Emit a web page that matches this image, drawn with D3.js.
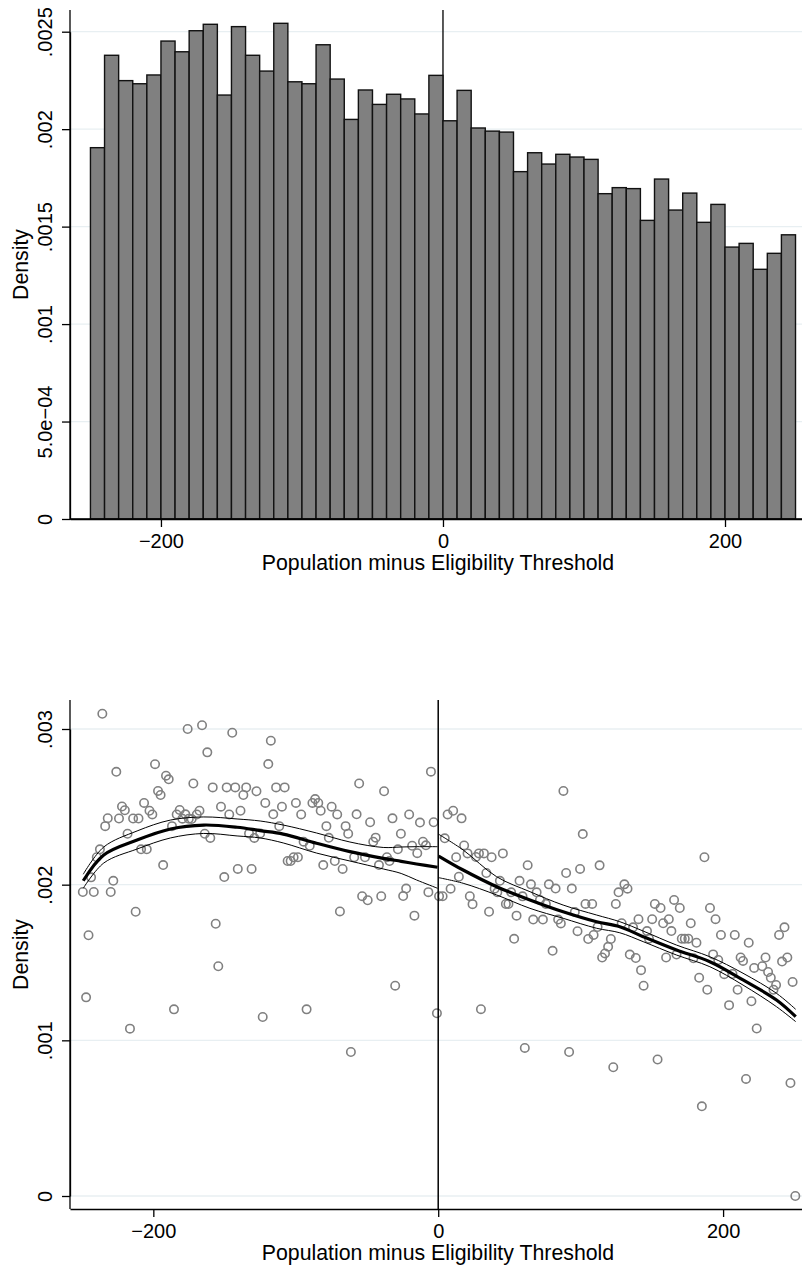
<!DOCTYPE html>
<html>
<head>
<meta charset="utf-8">
<script src="https://cdn.jsdelivr.net/npm/d3@7"></script>
<style>
  html, body { margin: 0; padding: 0; background: #fff; }
  svg { display: block; }
  text { font-family: "Liberation Sans", Arial, Helvetica, sans-serif; fill: #000; }
</style>
</head>
<body>
<svg id="chart" width="802" height="1271"></svg>
<script>
// ---------- Top panel: histogram ----------
const histBinStart = [-250,-240,-230,-220,-210,-200,-190,-180,-170,-160,
  -150,-140,-130,-120,-110,-100,-90,-80,-70,-60,
  -50,-40,-30,-20,-10,0,10,20,30,40,
  50,60,70,80,90,100,110,120,130,140,
  150,160,170,180,190,200,210,220,230,240];
const histBinWidth = 10;
const histDensity = [0.001905,0.002379,0.002249,0.002233,0.002278,0.002452,0.002397,0.002505,0.002538,0.002175,
  0.002526,0.002379,0.002298,0.002543,0.002243,0.002233,0.002433,0.002257,0.002050,0.002201,
  0.002127,0.002179,0.002155,0.002078,0.002276,0.002043,0.002199,0.002006,0.001990,0.001985,
  0.001782,0.001879,0.001821,0.001871,0.001857,0.001845,0.001669,0.001700,0.001695,0.001532,
  0.001744,0.001585,0.001672,0.001522,0.001614,0.001395,0.001414,0.001281,0.001363,0.001458];
const topYTicks = [0, 0.0005, 0.001, 0.0015, 0.002, 0.0025];
const topYLabels = ["0", "5.0e\u221204", ".001", ".0015", ".002", ".0025"];

// ---------- Bottom panel: binned density + fits ----------
const scatterX = [
  -249.5,-247.2,-245.5,-243.7,-241.8,-239.7,-237.5,-235.8,-233.8,-232.0,
  -229.9,-228.1,-226.0,-224.1,-222.0,-220.0,-218.1,-216.4,-214.2,-212.4,
  -210.4,-208.6,-206.5,-204.6,-202.7,-200.7,-198.8,-196.7,-194.9,-193.1,
  -191.1,-189.2,-186.9,-185.5,-183.6,-181.5,-179.6,-177.5,-175.9,-175.1,
  -173.1,-171.9,-169.5,-167.6,-165.8,-163.9,-162.1,-160.0,-158.3,-156.2,
  -154.4,-152.5,-150.2,-148.5,-146.7,-144.6,-142.5,-140.7,-138.8,-136.8,
  -134.8,-132.8,-131.0,-129.1,-127.6,-125.0,-123.2,-121.4,-119.3,-117.5,
  -115.8,-113.8,-111.6,-109.7,-107.8,-105.7,-103.6,-101.5,-99.9,-98.5,
  -96.2,-94.5,-92.4,-90.2,-88.3,-86.4,-84.2,-82.5,-80.7,-78.5,
  -76.8,-74.8,-72.6,-70.9,-69.0,-67.1,-65.0,-63.2,-61.3,-59.0,
  -57.3,-55.5,-53.4,-51.4,-49.5,-47.8,-45.6,-43.9,-41.6,-40.0,
  -38.0,-36.0,-34.2,-32.1,-30.2,-28.3,-26.2,-24.6,-22.5,-20.4,
  -18.3,-16.7,-14.7,-12.8,-10.7,-8.6,-6.9,-5.1,-3.2,-0.9,
  0.6,3.1,4.6,6.6,8.7,10.5,12.6,14.5,16.4,18.2,
  20.6,22.2,24.1,26.5,28.6,30.0,32.1,33.8,35.7,37.5,
  39.6,41.5,43.3,45.4,47.5,49.3,51.2,53.3,55.0,57.1,
  59.2,60.8,62.8,65.1,66.7,69.1,71.4,73.5,75.6,77.7,
  80.3,82.4,84.2,86.1,87.9,89.8,91.9,93.8,95.9,97.8,
  99.6,101.5,103.4,105.3,108.1,109.1,111.9,113.3,115.1,117.1,
  119.3,121.2,122.9,124.7,126.6,128.8,130.7,132.9,134.5,136.8,
  138.7,140.6,142.4,144.2,146.6,148.0,150.2,152.1,154.0,156.1,
  157.9,160.0,161.9,163.7,165.6,167.3,169.6,171.0,173.1,175.6,
  177.3,179.2,181.3,183.2,185.1,186.9,188.9,190.8,193.0,194.7,
  196.6,198.5,200.8,204.2,206.6,208.2,210.2,212.3,214.0,216.1,
  218.0,219.9,221.8,223.6,227.5,229.8,231.6,233.5,235.4,237.2,
  239.3,241.4,243.1,245.1,247.3,248.8,250.7];
const scatterY = [
  0.001953,0.001276,0.001675,0.002047,0.001953,0.002176,0.002227,0.003098,0.002376,0.002427,
  0.001953,0.002025,0.002725,0.002425,0.002502,0.002478,0.002327,0.001075,0.002425,0.001826,
  0.002425,0.002227,0.002525,0.002227,0.002475,0.002451,0.002774,0.002602,0.002576,0.002126,
  0.002700,0.002677,0.002376,0.001199,0.002451,0.002480,0.002424,0.002452,0.003000,0.002424,
  0.002422,0.002650,0.002451,0.002475,0.003024,0.002327,0.002850,0.002300,0.002625,0.001749,
  0.001476,0.002501,0.002049,0.002625,0.002451,0.002976,0.002625,0.002101,0.002475,0.002576,
  0.002625,0.002329,0.002101,0.002300,0.002600,0.002329,0.001150,0.002525,0.002775,0.002925,
  0.002452,0.002625,0.002376,0.002501,0.002625,0.002152,0.002152,0.002176,0.002525,0.002176,
  0.002451,0.002276,0.001199,0.002250,0.002525,0.002550,0.002525,0.002475,0.002126,0.002376,
  0.002301,0.002501,0.002152,0.002451,0.001828,0.002101,0.002376,0.002327,0.000925,0.002176,
  0.002452,0.002650,0.001926,0.002176,0.001900,0.002401,0.002276,0.002302,0.002126,0.001926,
  0.002600,0.002176,0.002152,0.002426,0.001351,0.002227,0.002327,0.001927,0.001975,0.002451,
  0.002250,0.001801,0.002202,0.002399,0.002276,0.002253,0.001952,0.002726,0.002401,0.001174,
  0.001926,0.001926,0.002298,0.002451,0.001974,0.002475,0.002176,0.002051,0.002426,0.002252,
  0.002201,0.001926,0.001875,0.002178,0.002201,0.001200,0.002201,0.002075,0.001826,0.002176,
  0.001974,0.001951,0.002025,0.002201,0.001876,0.001876,0.001951,0.001652,0.001801,0.002025,
  0.001925,0.000951,0.002125,0.002002,0.001776,0.001951,0.001902,0.001776,0.001876,0.002002,
  0.001575,0.001975,0.001776,0.001751,0.002602,0.002075,0.000925,0.001975,0.001824,0.001701,
  0.002101,0.002325,0.001876,0.001651,0.001876,0.001677,0.001728,0.002124,0.001532,0.001558,
  0.001601,0.001651,0.000827,0.001876,0.001951,0.001752,0.002002,0.001974,0.001551,0.001726,
  0.001529,0.001778,0.001451,0.001351,0.001702,0.001653,0.001778,0.001876,0.000877,0.001850,
  0.001752,0.001532,0.001778,0.001702,0.001902,0.001551,0.001850,0.001653,0.001653,0.001653,
  0.001752,0.001527,0.001627,0.001402,0.000576,0.002176,0.001325,0.001850,0.001552,0.001778,
  0.001516,0.001677,0.001425,0.001226,0.001426,0.001677,0.001325,0.001532,0.001510,0.000752,
  0.001627,0.001251,0.001465,0.001076,0.001476,0.001532,0.001439,0.001402,0.001325,0.001356,
  0.001677,0.001506,0.001726,0.001532,0.000726,0.001375,0.000000];

const fitLeftX  = [-249.2,-234.8,-211.4,-188.0,-164.6,-141.2,-125.0,-108.8,-85.4,-62.0,-38.6,-26.0,-15.2,-0.5];
const fitLeftY  = [0.002025,0.002191,0.002287,0.002358,0.002383,0.002369,0.002347,0.002325,0.002266,0.002212,0.002169,0.002150,0.002133,0.002112];
const fitLeftHi = [0.002067,0.002242,0.002345,0.002415,0.002435,0.002422,0.002409,0.002383,0.002332,0.002274,0.002239,0.002242,0.002244,0.002244];
const fitLeftLo = [0.001977,0.002139,0.002229,0.002300,0.002329,0.002313,0.002300,0.002268,0.002203,0.002152,0.002101,0.002072,0.002030,0.001977];

const fitRightX  = [0.3,17.5,41.0,64.4,87.7,111.2,127.5,143.9,167.3,190.7,214.0,237.5,251.0];
const fitRightY  = [0.002184,0.002094,0.001987,0.001902,0.001826,0.001762,0.001730,0.001666,0.001580,0.001505,0.001388,0.001259,0.001152];
const fitRightHi = [0.002324,0.002223,0.002051,0.001955,0.001869,0.001805,0.001762,0.001702,0.001612,0.001537,0.001431,0.001302,0.001199];
const fitRightLo = [0.002045,0.002009,0.001934,0.001848,0.001784,0.001720,0.001691,0.001634,0.001548,0.001473,0.001355,0.001216,0.001120];

const botYTicks = [0, 0.001, 0.002, 0.003];
const botYLabels = ["0", ".001", ".002", ".003"];
const xTicks = [-200, 0, 200];
const xTickLabels = ["\u2212200", "0", "200"];
const xTitle = "Population minus Eligibility Threshold";
const yTitle = "Density";

// ---------- drawing ----------
const svg = d3.select("#chart");
const FS = 20;
const TFS = 21.3;
const gridColor = "#e8eff2";
const axisW = 1.3;

function styleAxis(g) {
  g.selectAll("path.domain").attr("stroke", "#000").attr("stroke-width", axisW);
  g.selectAll(".tick line").attr("stroke", "#000").attr("stroke-width", axisW);
  g.selectAll("text").style("font-size", FS + "px").attr("fill", "#000")
    .style("font-family", '"Liberation Sans", Arial, Helvetica, sans-serif');
}

function drawFrame(cfg) {
  const { x, y, top, left, right, yTicks, yLabels, xAxisY } = cfg;
  svg.append("g").selectAll("line").data(yTicks).join("line")
    .attr("x1", left).attr("x2", right)
    .attr("y1", d => y(d)).attr("y2", d => y(d))
    .attr("stroke", gridColor).attr("stroke-width", 1.3);
  const ya = svg.append("g").attr("transform", `translate(${left},0)`)
    .call(d3.axisLeft(y).tickValues(yTicks).tickFormat((d, i) => yLabels[i]).tickSize(8).tickSizeOuter(0));
  styleAxis(ya);
  ya.selectAll(".tick text")
    .attr("x", 0).attr("dy", 0).attr("text-anchor", "middle")
    .attr("transform", "translate(-18,0) rotate(-90)");
  const xa = svg.append("g").attr("transform", `translate(0,${xAxisY})`)
    .call(d3.axisBottom(x).tickValues(xTicks).tickFormat((d, i) => xTickLabels[i]).tickSize(8).tickSizeOuter(0));
  styleAxis(xa);
  xa.selectAll(".tick text").attr("y", 28.5).attr("dy", 0);
  svg.append("text").attr("x", 438).attr("y", xAxisY + 51)
    .attr("text-anchor", "middle").style("font-size", TFS + "px").text(xTitle);
  svg.append("text").attr("transform", `translate(28,${(top + xAxisY) / 2}) rotate(-90)`)
    .attr("text-anchor", "middle").style("font-size", TFS + "px").text(yTitle);
}

// ===== Top =====
{
  const left = 70, right = 802, top = 10, xAxisY = 519;
  const x = d3.scaleLinear().domain([-264.5, 254.6]).range([left, right]);
  const y = d3.scaleLinear().domain([0, 0.0025]).range([519, 31.7]);
  drawFrame({ x, y, top, left, right, yTicks: topYTicks, yLabels: topYLabels, xAxisY });
  svg.append("line").attr("x1", x(0)).attr("x2", x(0)).attr("y1", top).attr("y2", xAxisY)
    .attr("stroke", "#000").attr("stroke-width", 1.3);
  svg.append("line").attr("x1", left).attr("x2", left).attr("y1", top).attr("y2", xAxisY)
    .attr("stroke", "#000").attr("stroke-width", axisW);
  svg.append("g").selectAll("rect").data(histDensity).join("rect")
    .attr("x", (d, i) => x(histBinStart[i]))
    .attr("width", (d, i) => x(histBinStart[i] + histBinWidth) - x(histBinStart[i]))
    .attr("y", d => y(d))
    .attr("height", d => y(0) - y(d))
    .attr("fill", "#808080").attr("stroke", "#111").attr("stroke-width", 1.4);
  svg.append("line").attr("x1", left).attr("x2", right).attr("y1", xAxisY).attr("y2", xAxisY)
    .attr("stroke", "#000").attr("stroke-width", axisW);
}

// ===== Bottom =====
{
  const left = 70, right = 802, top = 700, xAxisY = 1209;
  const x = d3.scaleLinear().domain([-258.5, 255.4]).range([left, right]);
  const y = d3.scaleLinear().domain([0, 0.003]).range([1196, 729]);
  drawFrame({ x, y, top, left, right, yTicks: botYTicks, yLabels: botYLabels, xAxisY });
  svg.append("line").attr("x1", left).attr("x2", left).attr("y1", top).attr("y2", xAxisY)
    .attr("stroke", "#000").attr("stroke-width", axisW);
  svg.append("g").selectAll("circle").data(scatterY).join("circle")
    .attr("cx", (d, i) => x(scatterX[i]))
    .attr("cy", d => y(d))
    .attr("r", 4.2)
    .attr("fill", "none").attr("stroke", "#808080").attr("stroke-width", 1.6);
  svg.append("line").attr("x1", x(0)).attr("x2", x(0)).attr("y1", top).attr("y2", xAxisY)
    .attr("stroke", "#000").attr("stroke-width", 1.5);
  const mk = (xs, ys) => d3.line().curve(d3.curveCatmullRom.alpha(0.5))
    .x((d, i) => x(xs[i])).y(d => y(d))(ys);
  const fits = [
    [fitLeftX, fitLeftHi, 1], [fitLeftX, fitLeftLo, 1], [fitLeftX, fitLeftY, 3.2],
    [fitRightX, fitRightHi, 1], [fitRightX, fitRightLo, 1], [fitRightX, fitRightY, 3.2]
  ];
  fits.forEach(([xs, ys, w]) => {
    svg.append("path").attr("d", mk(xs, ys)).attr("fill", "none")
      .attr("stroke", "#000").attr("stroke-width", w);
  });
}
</script>
</body>
</html>
